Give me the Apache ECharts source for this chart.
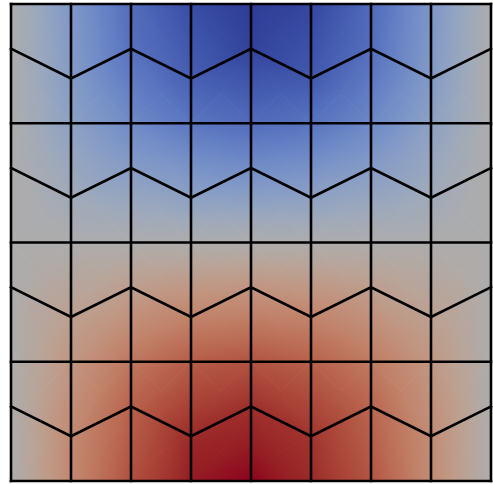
<!DOCTYPE html>
<html><head><meta charset="utf-8">
<script src="https://cdn.jsdelivr.net/npm/echarts@6/dist/echarts.min.js"></script>
<style>html,body{margin:0;padding:0;background:#fff}#c{width:493px;height:484px}</style>
</head><body><div id="c"></div>
<script>
// mesh columns (x of node columns)
const xNodes = [0, 0.125, 0.25, 0.375, 0.5, 0.625, 0.75, 0.875, 1];
// horizontal mesh lines (band edges)
const bandEdges = [0, 0.25, 0.5, 0.75, 1];
// zigzag node height inside each band (fraction of band height) for even / odd columns
const zigEvenFrac = 0.625;
const zigOddFrac = 0.375;

// nodal values, node rows from bottom (row 0: y=0) to top (row 8: y=1)
const values_r0 = [0, 0.39, 0.72, 0.95, 1.00, 0.90, 0.70, 0.37, 0];
const values_r1 = [0, 0.38, 0.63, 0.90, 0.88, 0.86, 0.61, 0.36, 0];
const values_r2 = [0, 0.27, 0.51, 0.66, 0.71, 0.64, 0.49, 0.27, 0];
const values_r3 = [0, 0.18, 0.20, 0.43, 0.29, 0.43, 0.20, 0.18, 0];
const values_r4 = [0, 0, 0, 0, 0, 0, 0, 0, 0];
const values_r5 = [0, -0.11, -0.33, -0.27, -0.47, -0.27, -0.33, -0.11, 0];
const values_r6 = [0, -0.27, -0.49, -0.64, -0.71, -0.66, -0.51, -0.27, 0];
const values_r7 = [0, -0.33, -0.67, -0.79, -0.96, -0.83, -0.69, -0.35, 0];
const values_r8 = [0, -0.37, -0.70, -0.90, -1.00, -0.94, -0.72, -0.39, 0];
const valueRows = [values_r0, values_r1, values_r2, values_r3, values_r4, values_r5, values_r6, values_r7, values_r8];

// colour scale (cool to warm), value range and shading
const valueMin = -1, valueMax = 1;
const coolwarm = [
 [59,76,192],[68,90,204],[77,104,215],[87,117,225],[98,130,234],[108,142,241],[119,154,247],[130,165,251],
 [141,176,254],[152,185,255],[163,194,255],[174,201,253],[184,208,249],[194,213,244],[204,217,238],[213,219,230],
 [221,221,221],[229,216,209],[236,211,197],[241,204,184],[245,196,172],[247,187,160],[247,177,148],[247,167,135],
 [244,154,123],[241,141,111],[236,127,99],[229,112,88],[222,96,77],[213,80,66],[203,62,56],[192,40,47],[180,4,38]];
const shade = 0.78;

function colorOf(v) {
  let t = (v - valueMin) / (valueMax - valueMin);
  t = Math.max(0, Math.min(1, t));
  const p = t * (coolwarm.length - 1);
  const k = Math.min(coolwarm.length - 2, Math.floor(p));
  const f = p - k;
  const a = coolwarm[k], b = coolwarm[k + 1];
  const c = [0,1,2].map(m => Math.round((a[m] + (b[m] - a[m]) * f) * shade));
  return 'rgb(' + c.join(',') + ')';
}

function nodeY(j, i) {
  if (j % 2 === 0) return bandEdges[j / 2];
  const b = (j - 1) / 2;
  const h = bandEdges[b + 1] - bandEdges[b];
  return bandEdges[b] + h * (i % 2 === 0 ? zigEvenFrac : zigOddFrac);
}

const elements = [];
for (let r = 0; r < valueRows.length - 1; r++)
  for (let c = 0; c < xNodes.length - 1; c++) elements.push([c, r]);

function triShape(P, F) {
  const d1x = P[1][0]-P[0][0], d1y = P[1][1]-P[0][1];
  const d2x = P[2][0]-P[0][0], d2y = P[2][1]-P[0][1];
  const df1 = F[1]-F[0], df2 = F[2]-F[0];
  const det = d1x*d2y - d1y*d2x;
  let fill;
  let imin = 0, imax = 0;
  for (let k = 1; k < 3; k++) { if (F[k] < F[imin]) imin = k; if (F[k] > F[imax]) imax = k; }
  const range = F[imax] - F[imin];
  if (range < 1e-6 || Math.abs(det) < 1e-9) {
    fill = colorOf((F[0]+F[1]+F[2])/3);
  } else {
    const gx = (df1*d2y - df2*d1y) / det;
    const gy = (df2*d1x - df1*d2x) / det;
    const g2 = gx*gx + gy*gy;
    const ax = P[imin][0], ay = P[imin][1];
    const bx = ax + gx*range/g2, by = ay + gy*range/g2;
    const stops = [];
    const n = 8;
    for (let k = 0; k <= n; k++) stops.push({offset: k/n, color: colorOf(F[imin] + range*k/n)});
    fill = new echarts.graphic.LinearGradient(ax, ay, bx, by, stops, true);
  }
  return {type: 'polygon', shape: {points: P}, style: {fill: fill, stroke: fill, lineWidth: 1}};
}

function renderElement(params, api) {
  const c = api.value(0), r = api.value(1);
  const idx = [[c, r], [c+1, r], [c+1, r+1], [c, r+1]];
  const P = idx.map(([i, j]) => api.coord([xNodes[i], nodeY(j, i)]));
  const F = idx.map(([i, j]) => valueRows[j][i]);
  const cx = (P[0][0]+P[1][0]+P[2][0]+P[3][0])/4, cy = (P[0][1]+P[1][1]+P[2][1]+P[3][1])/4;
  const cf = (F[0]+F[1]+F[2]+F[3])/4;
  const children = [];
  for (let k = 0; k < 4; k++) {
    const k2 = (k+1) % 4;
    children.push(triShape([P[k], P[k2], [cx, cy]], [F[k], F[k2], cf]));
  }
  return {type: 'group', children: children};
}

// mesh line polylines (in data coords, built from mesh arrays)
const meshLines = [];
xNodes.forEach(x => meshLines.push([[x, bandEdges[0]], [x, bandEdges[bandEdges.length-1]]]));
bandEdges.forEach(y => meshLines.push([[xNodes[0], y], [xNodes[xNodes.length-1], y]]));
for (let b = 0; b < bandEdges.length - 1; b++)
  meshLines.push(xNodes.map((x, i) => [x, nodeY(2*b+1, i)]));

function renderLine(params, api) {
  const pts = meshLines[params.dataIndex].map(p => api.coord(p));
  return {type: 'polyline', shape: {points: pts}, style: {stroke: '#000', lineWidth: 2.6, fill: null, lineJoin: 'miter', lineCap: 'square'}};
}

const chart = echarts.init(document.getElementById('c'), null, {renderer: 'canvas'});
chart.setOption({
  animation: false,
  backgroundColor: '#fff',
  grid: {left: 11, right: 2, top: 4, bottom: 3},
  xAxis: {type: 'value', min: 0, max: 1, show: false},
  yAxis: {type: 'value', min: 0, max: 1, show: false},
  series: [
    {type: 'custom', renderItem: renderElement, data: elements, coordinateSystem: 'cartesian2d', clip: false, z: 1},
    {type: 'custom', renderItem: renderLine, data: meshLines.map((l, i) => [i, 0]), coordinateSystem: 'cartesian2d', clip: false, z: 2}
  ]
});
</script>
</body></html>
